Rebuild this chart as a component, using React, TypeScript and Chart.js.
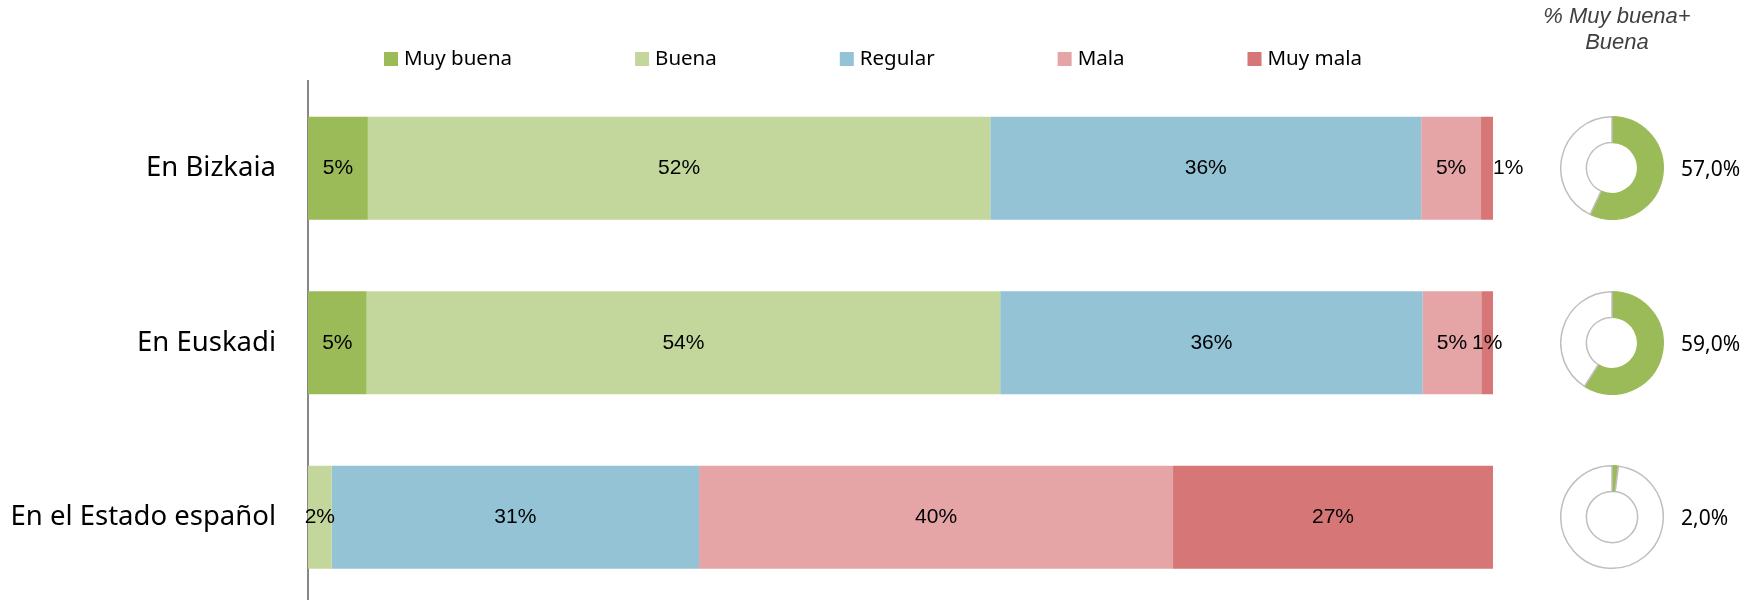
import React, { useEffect, useRef } from 'react';
import { Chart, registerables } from 'chart.js';

Chart.register(...registerables);

// ---- Data ----
const categories = ['En Bizkaia', 'En Euskadi', 'En el Estado español'];
const seriesNames = ['Muy buena', 'Buena', 'Regular', 'Mala', 'Muy mala'];
const muyBuena = [5, 5, 0];
const buena = [52, 54, 2];
const regular = [36, 36, 31];
const mala = [5, 5, 40];
const muyMala = [1, 1, 27];
const buenaTotal = [57.0, 59.0, 2.0];
const titleLines = ['% Muy buena+', 'Buena'];

// ---- Styles ----
const colors = ['#9BBB59', '#C3D69B', '#93C3D5', '#E5A5A6', '#D77677'];
const W = 1762;
const H = 653;
const AXIS_X = 308;
const PLOT_RIGHT = 1493;
const PLOT_TOP = 81;
const DONUT_CX = 1612;
const DONUT_CY = [168, 343, 517];
const DONUT_SIZE = 104;

export default function App() {
  const barRef = useRef<HTMLCanvasElement | null>(null);
  const d0 = useRef<HTMLCanvasElement | null>(null);
  const d1 = useRef<HTMLCanvasElement | null>(null);
  const d2 = useRef<HTMLCanvasElement | null>(null);

  useEffect(() => {
    const series = [muyBuena, buena, regular, mala, muyMala];
    const totals = categories.map((_, i) => series.reduce((s, a) => s + a[i], 0));

    const labelPlugin = {
      id: 'barLabels',
      afterDatasetsDraw(chart: any) {
        const ctx = chart.ctx;
        ctx.save();
        ctx.font = '21px "Liberation Sans", Arial, sans-serif';
        ctx.fillStyle = '#000';
        ctx.textBaseline = 'middle';
        series.forEach((arr, k) => {
          const meta = chart.getDatasetMeta(k);
          meta.data.forEach((el: any, i: number) => {
            const v = arr[i];
            if (!v) return;
            const outside = k === 4 && i === 0;
            ctx.textAlign = outside ? 'left' : 'center';
            const x = outside ? el.x : (el.x + el.base) / 2;
            ctx.fillText(v + '%', x, el.y);
          });
        });
        ctx.restore();
      },
    };

    const legendPlugin = {
      id: 'customLegend',
      afterDraw(chart: any) {
        const ctx = chart.ctx;
        ctx.save();
        ctx.font = '20.5px "Noto Sans", sans-serif';
        ctx.textBaseline = 'middle';
        ctx.textAlign = 'left';
        let x = 384;
        seriesNames.forEach((name, k) => {
          ctx.fillStyle = colors[k];
          ctx.fillRect(x, 52, 14, 14);
          ctx.fillStyle = '#000';
          ctx.fillText(name, x + 20, 59);
          x += 20 + ctx.measureText(name).width + 123;
        });
        ctx.restore();
      },
    };

    const bar = new Chart(barRef.current as HTMLCanvasElement, {
      type: 'bar',
      data: {
        labels: categories,
        datasets: series.map((arr, k) => ({
          label: seriesNames[k],
          data: arr.map((v, i) => (v / totals[i]) * 100),
          backgroundColor: colors[k],
          borderWidth: 0,
          barPercentage: 0.59,
          categoryPercentage: 1,
        })),
      },
      options: {
        indexAxis: 'y',
        responsive: false,
        animation: false,
        layout: { padding: { left: 0, right: W - PLOT_RIGHT, top: PLOT_TOP, bottom: 0 } },
        plugins: { legend: { display: false }, tooltip: { enabled: false } },
        scales: {
          x: { stacked: true, min: 0, max: 100, display: false },
          y: {
            stacked: true,
            grid: { display: false, drawTicks: false },
            border: { display: true, color: '#868686', width: 2 },
            ticks: { padding: 32, color: '#000', font: { family: 'Noto Sans', size: 27.5 } },
            afterFit: (s: any) => {
              s.width = AXIS_X;
            },
          },
        },
      } as any,
      plugins: [labelPlugin, legendPlugin],
    });

    const donuts = [d0, d1, d2].map((r, i) =>
      new Chart(r.current as HTMLCanvasElement, {
        type: 'doughnut',
        data: {
          labels: ['Muy buena + Buena', 'Resto'],
          datasets: [
            {
              data: [buenaTotal[i], 100 - buenaTotal[i]],
              backgroundColor: ['#9BBB59', '#FFFFFF'],
              borderColor: ['#9BBB59', '#BFBFBF'],
              borderWidth: 1.5,
            },
          ],
        },
        options: {
          responsive: false,
          animation: false,
          cutout: '50%',
          layout: { padding: 0 },
          plugins: { legend: { display: false }, tooltip: { enabled: false } },
        } as any,
      })
    );

    return () => {
      bar.destroy();
      donuts.forEach((d) => d.destroy());
    };
  }, []);

  const donutRefs = [d0, d1, d2];

  return (
    <div
      style={{
        position: 'fixed',
        left: 0,
        top: 0,
        width: W,
        height: 600,
        overflow: 'hidden',
        background: '#fff',
      }}
    >
      <canvas
        ref={barRef}
        width={W}
        height={H}
        style={{ position: 'absolute', left: 0, top: 0, display: 'block' }}
      />
      {donutRefs.map((r, i) => (
        <canvas
          key={i}
          ref={r}
          width={DONUT_SIZE}
          height={DONUT_SIZE}
          style={{
            position: 'absolute',
            left: DONUT_CX - DONUT_SIZE / 2,
            top: DONUT_CY[i] - DONUT_SIZE / 2,
            display: 'block',
          }}
        />
      ))}
      {buenaTotal.map((v, i) => (
        <div
          key={'v' + i}
          style={{
            position: 'absolute',
            left: 1681,
            top: DONUT_CY[i] - 14,
            height: 30,
            lineHeight: '30px',
            font: '21px "Noto Sans", sans-serif',
            color: '#000',
            whiteSpace: 'nowrap',
          }}
        >
          {v.toFixed(1).replace('.', ',') + '%'}
        </div>
      ))}
      <div
        style={{
          position: 'absolute',
          left: 1517,
          top: 3,
          width: 200,
          textAlign: 'center',
          font: 'italic 22px "Liberation Sans", Arial, sans-serif',
          lineHeight: '26px',
          color: '#404040',
        }}
      >
        {titleLines.map((t, i) => (
          <div key={i}>{t}</div>
        ))}
      </div>
    </div>
  );
}
